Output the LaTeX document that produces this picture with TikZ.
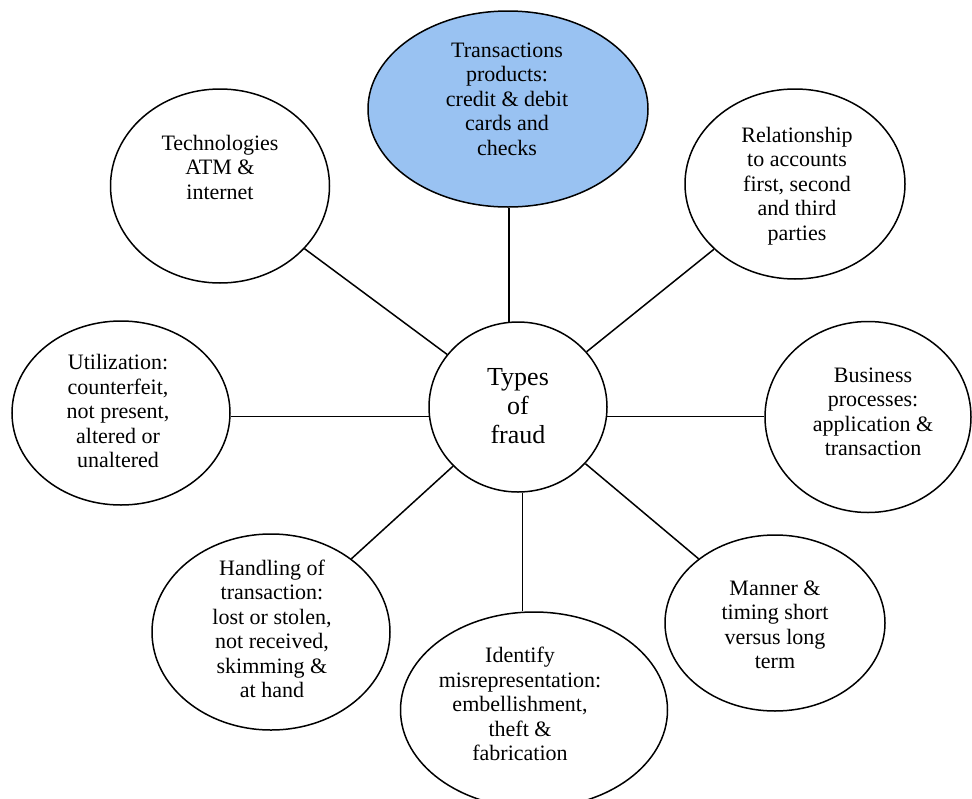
\documentclass[tikz,border=0pt]{standalone}
\usepackage{fontspec}
\setmainfont{Liberation Serif}
\usetikzlibrary{shapes.geometric}
\definecolor{bubblue}{RGB}{153,194,242}
\begin{document}
\begin{tikzpicture}[x=1pt,y=-1pt,
  bub/.style={draw, line width=1.5pt, ellipse, inner sep=0pt},
  txt/.style={align=center, font=\fontsize{22}{24.5}\selectfont, inner sep=0pt},
  link/.style={line width=1.5pt}]
\useasboundingbox (0,0) rectangle (972,798);
\fill[white] (0,0) rectangle (972,798);
% bubbles
\node[bub, fill=bubblue, minimum width=280pt, minimum height=196pt] (trans) at (508,109) {};
\node[bub, minimum width=219pt, minimum height=194pt] (tech) at (220,186) {};
\node[bub, minimum width=220pt, minimum height=190pt] (rel) at (795,184) {};
\node[bub, minimum width=218pt, minimum height=184pt] (util) at (121,413) {};
\node[bub, minimum width=178pt, minimum height=170pt] (ctr) at (518,407) {};
\node[bub, minimum width=206pt, minimum height=191pt] (bus) at (868,417) {};
\node[bub, minimum width=238pt, minimum height=196pt] (hand) at (271,632) {};
\node[bub, minimum width=267pt, minimum height=196pt] (ident) at (534,710) {};
\node[bub, minimum width=220pt, minimum height=176pt] (manner) at (775,623) {};
% texts
\node[txt] (transT) at (507,99) {Transactions\\products:\\credit \& debit\\cards and\\checks};
\node[txt] (techT) at (220,167) {Technologies\\ATM \&\\internet};
\node[txt] (relT) at (797,186) {Relationship\\to accounts\\first, second\\and third\\parties};
\node[txt] (utilT) at (118,411) {Utilization:\\counterfeit,\\not present,\\altered or\\unaltered};
\node[txt, font=\fontsize{26}{29}\selectfont] (ctrT) at (518,406) {Types\\of\\fraud};
\node[txt] (busT) at (873,412) {Business\\processes:\\application \&\\transaction};
\node[txt] (handT) at (272,629) {Handling of\\transaction:\\lost or stolen,\\not received,\\skimming \&\\at hand};
\node[txt] (identT) at (520,704) {Identify\\misrepresentation:\\embellishment,\\theft \&\\fabrication};
\node[txt] (mannerT) at (775,625) {Manner \&\\timing short\\versus long\\term};
% connectors
\draw[link] (ctr) -- (tech);
\draw[link] (ctr) -- (rel);
\draw[link] (ctr) -- (hand);
\draw[link] (ctr) -- (manner);
\draw[link] (ctr.96.7) -- (ctr.96.7 |- trans.south);
\draw[link] (ctr.-87.3) -- (ctr.-87.3 |- ident.north);
\draw[link] (ctr.186.7) -- (ctr.186.7 -| util.east);
\draw[link] (ctr.-6.7) -- (ctr.-6.7 -| bus.west);
\end{tikzpicture}
\end{document}
